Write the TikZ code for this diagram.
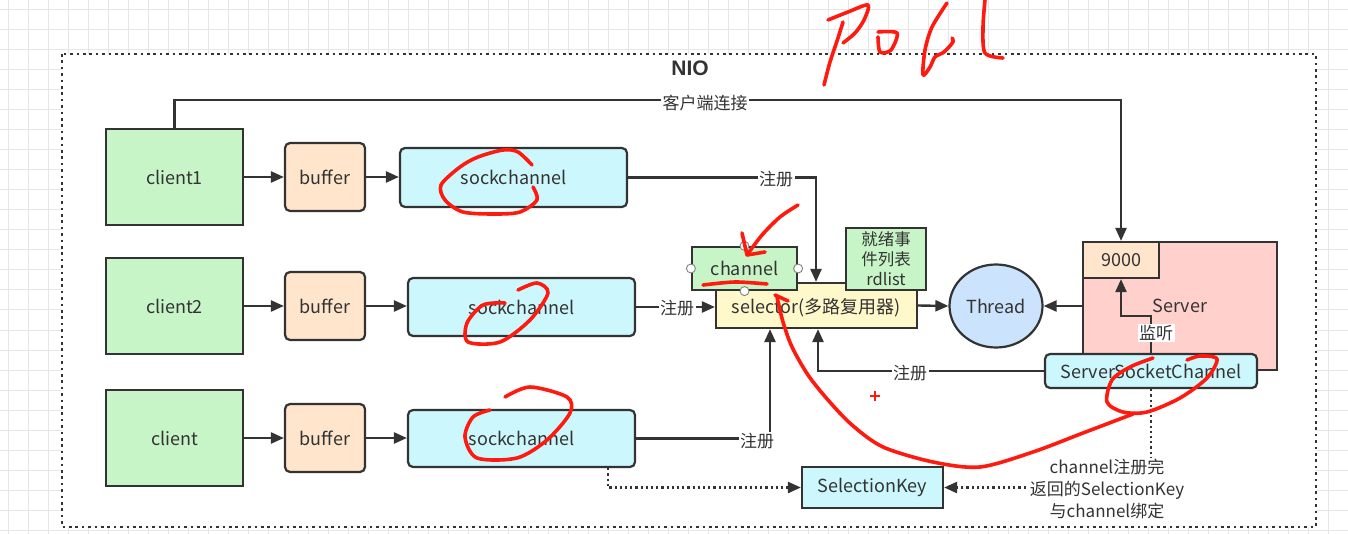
\documentclass[tikz,border=0pt]{standalone}
\usepackage{fontspec}
\setmainfont{Noto Sans CJK SC}
\newfontfamily\nioFont{Liberation Sans}
\usetikzlibrary{arrows.meta,shapes.geometric}
\definecolor{linec}{HTML}{333333}
\definecolor{txtc}{HTML}{333333}
\definecolor{gridc}{HTML}{E6E6E6}
\definecolor{cgreen}{HTML}{C8F5C8}
\definecolor{corange}{HTML}{FFE5CB}
\definecolor{ccyan}{HTML}{CCF7FD}
\definecolor{cyellow}{HTML}{FFF8CA}
\definecolor{cblue}{HTML}{CCE3FD}
\definecolor{cpink}{HTML}{FFD0CC}
\definecolor{redpen}{HTML}{FF1A0F}
\begin{document}
\begin{tikzpicture}[x=1pt,y=-1pt,
  base/.style={draw=linec, line width=2.2pt, text=txtc, inner sep=0pt, font=\fontsize{18}{21}\selectfont},
  sq/.style={base},
  rnd/.style={base, rounded corners=5pt},
  arr/.style={draw=linec, line width=2.4pt, -{Triangle[length=13pt,width=11pt]}},
  dotl/.style={draw=linec, line width=2.4pt, dash pattern=on 2.2pt off 3pt},
  lbl/.style={fill=white, inner sep=1.5pt, text=txtc, font=\fontsize{17}{21}\selectfont},
  port/.style={circle, draw=gray, fill=white, line width=0.9pt, minimum size=9pt, inner sep=0pt},
  ann/.style={draw=redpen, line width=3.6pt, line cap=round, line join=round}
]
\useasboundingbox (0,0) rectangle (1348,534);
% grid background
\fill[white] (0,0) rectangle (1348,534);
\foreach \i in {8,28,...,1348} \draw[gridc, line width=1pt] (\i,0) -- (\i,534);
\foreach \j in {10,30,...,534} \draw[gridc, line width=1pt] (0,\j) -- (1348,\j);
% outer NIO box
\draw[draw=linec, line width=2.8pt, dash pattern=on 2.6pt off 3.8pt, fill=white] (62,54) rectangle (1316,527);
\node[text=txtc, font=\nioFont\bfseries\fontsize{21}{24}\selectfont] (nio) at (690,68) {NIO};

% clients
\node[sq, fill=cgreen, minimum width=137pt, minimum height=96pt] (client1) at (174.5,177) {client1};
\node[sq, fill=cgreen, minimum width=137pt, minimum height=96pt] (client2) at (174.5,306) {client2};
\node[sq, fill=cgreen, minimum width=137pt, minimum height=96pt] (client3) at (174.5,438) {client};
% buffers
\node[rnd, fill=corange, minimum width=80pt, minimum height=68pt] (buf1) at (325,177) {buffer};
\node[rnd, fill=corange, minimum width=80pt, minimum height=68pt] (buf2) at (325,306) {buffer};
\node[rnd, fill=corange, minimum width=80pt, minimum height=68pt] (buf3) at (325,438) {buffer};
% sockchannels
\node[rnd, fill=ccyan, minimum width=227pt, minimum height=59pt] (sock1) at (513.5,177.5) {sockchannel};
\node[rnd, fill=ccyan, minimum width=227pt, minimum height=58pt] (sock2) at (521.5,307) {sockchannel};
\node[rnd, fill=ccyan, minimum width=227pt, minimum height=57pt] (sock3) at (521.5,438.5) {sockchannel};
% selector, channel, rdlist
\node[sq, fill=cyellow, minimum width=201pt, minimum height=45pt, text depth=0pt] (selector) at (816.5,305.5) {\raisebox{-1pt}{selector(多路复用器)}};
\node[sq, fill=cgreen, minimum width=105pt, minimum height=43pt] (channel) at (744.5,268.5) {channel};
\node[sq, fill=cgreen, minimum width=80pt, minimum height=62pt, align=center, font=\fontsize{16.5}{20}\selectfont] (rdlist) at (886,259) {就绪事\\件列表\\rdlist};
\node[port] (pt) at (channel.north) {};
\node[port] (pb) at (channel.south) {};
\node[port] (pl) at (channel.west) {};
\node[port] (pr) at (channel.east) {};
% thread
\node[base, ellipse, fill=cblue, minimum width=93pt, minimum height=83pt] (thread) at (996,306) {Thread};
% server
\node[sq, fill=cpink, minimum width=194pt, minimum height=128pt] (server) at (1180,306) {Server};
\node[sq, fill=corange, minimum width=76pt, minimum height=36pt] (p9000) at (1121,260) {9000};
\node[rnd, fill=ccyan, minimum width=212pt, minimum height=34pt] (ssc) at (1151,371) {ServerSocketChannel};
% selection key
\node[sq, fill=ccyan, minimum width=141pt, minimum height=41pt] (selkey) at (872.5,487.5) {SelectionKey};

% row arrows
\draw[arr] (client1) -- (buf1);
\draw[arr] (buf1) -- (sock1.west |- buf1.east);
\draw[arr] (client2) -- (buf2);
\draw[arr] (buf2) -- (sock2.west |- buf2.east);
\draw[arr] (client3) -- (buf3);
\draw[arr] (buf3) -- (sock3.west |- buf3.east);

% client connect line
\coordinate (ctop) at (174.5,100);
\draw[arr] (client1.north) -- (ctop) -| (p9000.north);
\node[lbl] (lconn) at (705,103) {客户端连接};

% registrations
\draw[arr] (sock1.east) -| ([xshift=-0.5pt]selector.north);
\node[lbl] (lr1) at (776,179) {注册};
\draw[arr] (sock2.east) -- (selector.west |- sock2.east);
\node[lbl] (lr2) at (677,308) {注册};
\draw[arr] (sock3.east) -| ([xshift=-46.5pt]selector.south);
\node[lbl] (lr3) at (757,441) {注册};
\draw[arr] (ssc.west) -| ([xshift=1.5pt]selector.south);
\node[lbl] (lr4) at (910,373) {注册};

% selector -> thread, server -> thread
\draw[arr] (selector.east) -- (thread.west);
\draw[arr] (server.west) -- (thread.east);

% listen
\coordinate (lis) at (1151,316);
\draw[arr] (ssc.north) -- (lis) -| (p9000.south);
\node[lbl] (llis) at (1156,333) {监听};

% dotted connectors
\draw[dotl, -{Triangle[length=13pt,width=11pt]}] ([xshift=86.5pt]sock3.south) |- (selkey.west);
\draw[dotl, -{Triangle[length=13pt,width=11pt]}] (ssc.south) |- (selkey.east);
\node[lbl, align=center, font=\fontsize{17}{22}\selectfont] (lkey) at (1107,489) {channel注册完\\返回的SelectionKey\\与channel绑定};

% red annotations
\draw[ann] plot[smooth] coordinates {(824,85) (830,62) (838,38) (843,22)};
\draw[ann] plot[smooth] coordinates {(828,20) (848,12) (868,5) (864,20) (855,33) (843,43)};
\draw[ann] plot[smooth] coordinates {(878,32) (897,33) (891,50) (880,52) (878,37)};
\draw[ann] plot[smooth] coordinates {(947,3) (932,27) (925,50) (923,75) (930,67) (935,57) (944,52) (953,42) (952,38)};
\draw[ann] plot[smooth] coordinates {(985,0) (983,27) (985,53) (1003,58)};
\draw[ann] plot[smooth] coordinates {(532,165) (518,152) (503,150) (478,157) (460,167) (441,185) (445,200) (463,212) (495,214) (520,212) (537,200) (533,187)};
\draw[ann] plot[smooth] coordinates {(518,290) (537,283) (548,293) (530,320) (500,342) (468,342) (467,323) (483,305) (505,303)};
\draw[ann] plot[smooth] coordinates {(505,397) (530,387) (567,397) (570,413) (547,440) (517,458) (477,458) (465,437) (473,417) (490,410)};
\draw[ann] plot[smooth] coordinates {(798,205) (780,217) (762,235) (747,255)};
\draw[ann] (742,233) -- (747,255) -- (765,252);
\draw[ann] plot[smooth] coordinates {(703,285) (735,282) (767,284)};
\draw[ann] plot[smooth] coordinates {(1153,358) (1130,367) (1112,380) (1107,402) (1123,412) (1147,412) (1180,398) (1207,378) (1217,359) (1200,356) (1187,360)};
\draw[ann] plot[smooth] coordinates {(1133,414) (1083,433) (1033,452) (980,467) (933,462) (883,447) (852,425) (828,400) (808,375) (792,347) (783,322) (777,297)};
\draw[ann] (775,295) -- (788,301);
\draw[redpen, line width=1.4pt] (870,396) -- (880,396) (875,391) -- (875,401);
\end{tikzpicture}
\end{document}
